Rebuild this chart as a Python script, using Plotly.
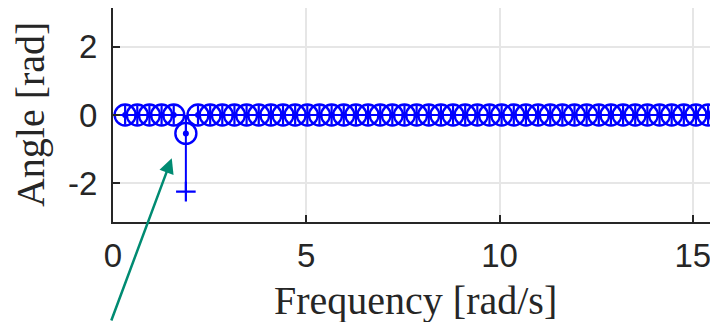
import numpy as np
import plotly.graph_objects as go

# Frequencies k*pi/10, k = 1..50
k_index = list(range(1, 51))
freq = [k * np.pi / 10 for k in k_index]

# Angle values (zero except at k = 6)
angle_circle = [0.0] * 50
angle_plus = [0.0] * 50
angle_circle[5] = -0.54
angle_plus[5] = -2.25

x_ticks = [0, 5, 10, 15]
x_ticklabels = ["0", "5", "10", "15"]
y_ticks = [-2, 0, 2]
y_ticklabels = ["-2", "0", "2"]

BLUE = "#0000FF"
TEAL = "#008B72"

def stems(xs, ys):
    sx, sy = [], []
    for a, b in zip(xs, ys):
        sx += [a, a, None]
        sy += [0, b, None]
    return sx, sy

fig = go.Figure()
sx, sy = stems(freq, angle_plus)
fig.add_trace(go.Scatter(x=sx, y=sy, mode="lines", line=dict(color=BLUE, width=2), hoverinfo="skip"))
sx, sy = stems(freq, angle_circle)
fig.add_trace(go.Scatter(x=sx, y=sy, mode="lines", line=dict(color=BLUE, width=2), hoverinfo="skip"))
fig.add_trace(go.Scatter(x=freq, y=angle_circle, mode="markers",
                         marker=dict(symbol="circle-open", size=21, color=BLUE, line=dict(width=2.4, color=BLUE))))
fig.add_trace(go.Scatter(x=freq, y=angle_plus, mode="markers",
                         marker=dict(symbol="cross-thin-open", size=14, color=BLUE, line=dict(width=2.2, color=BLUE))))
fig.add_trace(go.Scatter(x=freq, y=angle_circle, mode="markers",
                         marker=dict(symbol="circle", size=6, color=BLUE)))

axis_common = dict(
    showline=True, linecolor="#262626", linewidth=2,
    ticks="inside", ticklen=7, tickwidth=2, tickcolor="#262626",
    showgrid=True, gridcolor="#e6e6e6", gridwidth=1.5,
    zeroline=False, mirror=False, automargin=False,
    tickfont=dict(family="Liberation Sans, Arial, sans-serif", size=33, color="#262626"),
)

fig.update_xaxes(range=[0, 15.65], tickvals=x_ticks, ticktext=x_ticklabels, ticklabelstandoff=3, **axis_common)
fig.update_yaxes(range=[-np.pi, np.pi], tickvals=y_ticks, ticktext=y_ticklabels, ticklabelstandoff=7, **axis_common)

title_font = dict(family="Liberation Serif, Times New Roman, serif", size=40, color="#262626")
fig.add_annotation(text="Frequency [rad/s]", xref="paper", yref="paper", x=0.5, y=-0.369,
                   xanchor="center", yanchor="middle", showarrow=False, font=title_font)
fig.add_annotation(text="Angle [rad]", xref="paper", yref="paper", x=-0.137, y=0.5, textangle=-90,
                   xanchor="center", yanchor="middle", showarrow=False, font=title_font)

fig.add_annotation(x=1.52, y=-1.27, xref="x", yref="y", ax=-61, ay=167, axref="pixel", ayref="pixel",
                   text="", showarrow=True, arrowhead=2, arrowsize=1.2, arrowwidth=2.5, arrowcolor=TEAL)

# The page places the figure 8 px from the top-left corner, so the figure is sized to fill the rest.
fig.update_layout(
    width=710, height=314,
    margin=dict(l=105, r=0, t=0, b=100),
    paper_bgcolor="white", plot_bgcolor="white",
    showlegend=False,
)

fig.write_html("out.html")
